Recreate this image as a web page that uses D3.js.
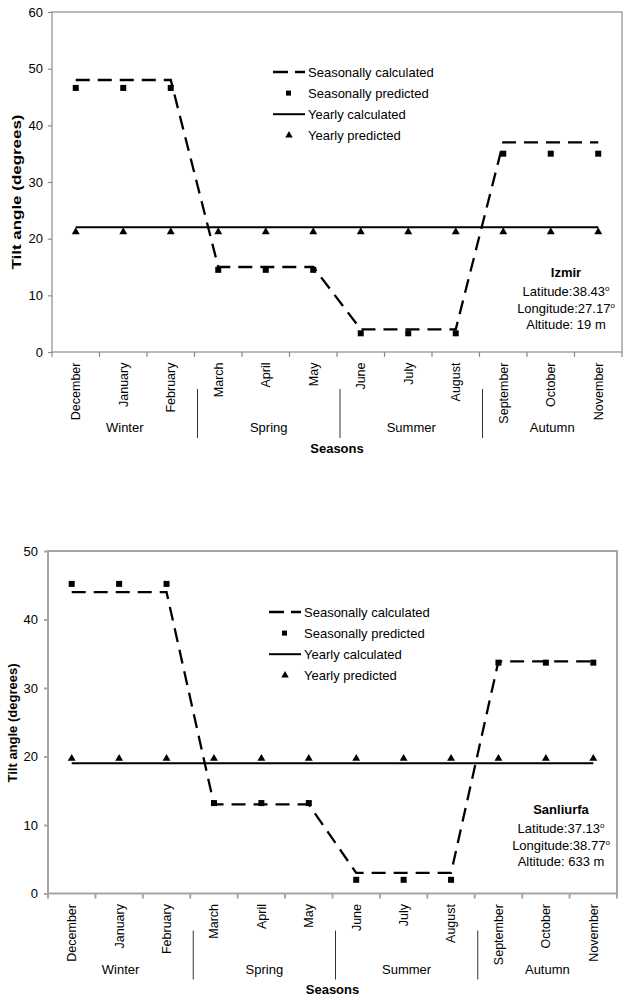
<!DOCTYPE html>
<html>
<head>
<meta charset="utf-8">
<script src="https://cdn.jsdelivr.net/npm/d3@7"></script>
<style>
body{margin:0;background:#fff;}
text{font-family:"Liberation Sans",Arial,sans-serif;fill:#000;}
</style>
</head>
<body>
<div id="chart"></div>
<script>
// categories
var months=["December","January","February","March","April","May","June","July","August","September","October","November"];
var seasons=["Winter","Spring","Summer","Autumn"];
var legendLabels=["Seasonally calculated","Seasonally predicted","Yearly calculated","Yearly predicted"];

// Izmir
var izmirTicks=[0,10,20,30,40,50,60];
var izmirSeasonalCalc=[48,48,48,15,15,15,4,4,4,37,37,37];
var izmirSeasonalPred=[46.6,46.6,46.6,14.5,14.5,14.5,3.3,3.3,3.3,35,35,35];
var izmirYearlyCalc=[22,22,22,22,22,22,22,22,22,22,22,22];
var izmirYearlyPred=[21.2,21.2,21.2,21.2,21.2,21.2,21.2,21.2,21.2,21.2,21.2,21.2];
var izmirInfo=["Izmir","Latitude:38.43","Longitude:27.17","Altitude: 19 m"];

// Sanliurfa
var sanliurfaTicks=[0,10,20,30,40,50];
var sanliurfaSeasonalCalc=[44,44,44,13,13,13,3,3,3,33.9,33.9,33.9];
var sanliurfaSeasonalPred=[45.2,45.2,45.2,13.2,13.2,13.2,2,2,2,33.7,33.7,33.7];
var sanliurfaYearlyCalc=[19,19,19,19,19,19,19,19,19,19,19,19];
var sanliurfaYearlyPred=[19.7,19.7,19.7,19.7,19.7,19.7,19.7,19.7,19.7,19.7,19.7,19.7];
var sanliurfaInfo=["Sanliurfa","Latitude:37.13","Longitude:38.77","Altitude: 633 m"];

var svg=d3.select("#chart").append("svg")
    .attr("width",629)
    .attr("height",1000);

function drawPanel(o){
    var g=svg.append("g");
    var x=d3.scaleBand().domain(months).range([o.left,o.right]);
    var y=d3.scaleLinear().domain([0,o.ticks[o.ticks.length-1]]).range([o.bottom,o.top]);
    var cx=function(i){return x(months[i])+x.bandwidth()/2;};

    // plot frame
    g.append("rect")
        .attr("x",o.left).attr("y",o.top)
        .attr("width",o.right-o.left).attr("height",o.bottom-o.top)
        .attr("fill","none").attr("stroke",o.frameColor).attr("stroke-width",o.frameWidth);

    // y axis
    var ya=g.append("g")
        .attr("transform","translate("+o.left+",0)")
        .call(d3.axisLeft(y).tickValues(o.ticks).tickSize(4).tickPadding(o.tickPad));
    ya.select(".domain").remove();
    ya.selectAll("line").attr("stroke",o.frameColor).attr("stroke-width",o.frameWidth);
    ya.selectAll("text").style("font-size","13px").style("font-family","Liberation Sans, Arial, sans-serif");

    // x axis: month labels at band centres
    var xa=g.append("g")
        .attr("transform","translate(0,"+o.bottom+")")
        .call(d3.axisBottom(x).tickSize(0).tickPadding(0));
    xa.select(".domain").remove();
    xa.selectAll("text")
        .attr("transform","rotate(-90)")
        .attr("x",-10.5).attr("y",0).attr("dy","0.35em")
        .attr("text-anchor","end")
        .style("font-size","12.5px").style("font-family","Liberation Sans, Arial, sans-serif");

    // tick marks at category boundaries
    var edges=months.map(function(m){return x(m);}).concat([x(months[11])+x.step()]);
    g.selectAll(".xtick").data(edges).enter().append("line")
        .attr("x1",function(d){return d;}).attr("x2",function(d){return d;})
        .attr("y1",o.bottom).attr("y2",o.bottom+5)
        .attr("stroke",o.frameColor).attr("stroke-width",o.frameWidth);

    // season separators and labels
    var seps=[3,6,9].map(function(i){return x(months[i])+3;});
    g.selectAll(".sep").data(seps).enter().append("line")
        .attr("x1",function(d){return d;}).attr("x2",function(d){return d;})
        .attr("y1",o.bottom+37).attr("y2",o.bottom+86)
        .attr("stroke","#333").attr("stroke-width",1);
    var groupEdges=[o.left].concat(seps).concat([o.right]);
    g.selectAll(".season").data(seasons).enter().append("text")
        .attr("x",function(d,i){return (groupEdges[i]+groupEdges[i+1])/2;})
        .attr("y",o.bottom+80)
        .attr("text-anchor","middle")
        .style("font-size","13px")
        .text(function(d){return d;});
    g.append("text")
        .attr("x",(o.left+o.right)/2).attr("y",o.bottom+100.5)
        .attr("text-anchor","middle")
        .style("font-size","13px").style("font-weight","bold")
        .text("Seasons");

    // y title
    var yt=g.append("text")
        .attr("transform","translate("+o.titleX+","+o.titleY+") rotate(-90)")
        .attr("text-anchor","middle").attr("dy","0.35em")
        .style("font-size","13px").style("font-weight","bold")
        .text("Tilt angle (degrees)");
    if(o.titleLen) yt.attr("textLength",o.titleLen).attr("lengthAdjust","spacingAndGlyphs");

    var line=d3.line().x(function(d,i){return cx(i);}).y(function(d){return y(d);});

    // yearly calculated
    g.append("path").datum(o.yearlyCalc).attr("d",line)
        .attr("fill","none").attr("stroke","#000").attr("stroke-width",2);
    // seasonally calculated
    g.append("path").datum(o.seasonalCalc).attr("d",line)
        .attr("fill","none").attr("stroke","#000").attr("stroke-width",2.3)
        .attr("stroke-dasharray","14,8");

    // seasonally predicted
    g.selectAll(".sq").data(o.seasonalPred).enter().append("rect")
        .attr("x",function(d,i){return cx(i)-3;})
        .attr("y",function(d){return y(d)-3;})
        .attr("width",6).attr("height",6).attr("fill","#000");
    // yearly predicted
    var tri=d3.symbol().type(d3.symbolTriangle).size(27);
    g.selectAll(".tri").data(o.yearlyPred).enter().append("path")
        .attr("d",tri)
        .attr("transform",function(d,i){return "translate("+cx(i)+","+y(d)+")";})
        .attr("fill","#000");

    // legend
    var lg=g.append("g").attr("transform","translate("+o.legendX+","+o.legendY+")");
    legendLabels.forEach(function(lab,i){
        var ry=i*21.1;
        if(i===0) lg.append("line").attr("x1",0).attr("x2",32).attr("y1",ry).attr("y2",ry)
            .attr("stroke","#000").attr("stroke-width",2.3).attr("stroke-dasharray","15,7");
        if(i===1) lg.append("rect").attr("x",13).attr("y",ry-2.5).attr("width",5).attr("height",5).attr("fill","#000");
        if(i===2) lg.append("line").attr("x1",0).attr("x2",32).attr("y1",ry).attr("y2",ry)
            .attr("stroke","#000").attr("stroke-width",2);
        if(i===3) lg.append("path").attr("d",d3.symbol().type(d3.symbolTriangle).size(24)).attr("transform","translate(16,"+ry+")").attr("fill","#000");
        lg.append("text").attr("x",35).attr("y",ry).attr("dy","0.35em")
            .style("font-size","13px").text(lab);
    });

    // site info
    var info=g.append("g");
    var offs=[0,19,36,52];
    o.info.forEach(function(t,i){
        var tx=info.append("text").attr("x",o.infoX).attr("y",o.infoY+offs[i])
            .attr("text-anchor","middle").style("font-size","13px");
        if(i===0){tx.style("font-weight","bold").text(t);}
        else if(i<3){
            tx.append("tspan").text(t);
            tx.append("tspan").attr("dy",-5).style("font-size","8px").text("o");
        } else tx.text(t);
    });
}

drawPanel({
    left:52,right:622,top:12,bottom:352,
    ticks:izmirTicks,tickPad:5,
    frameColor:"#8c8c8c",frameWidth:1.2,
    seasonalCalc:izmirSeasonalCalc,seasonalPred:izmirSeasonalPred,
    yearlyCalc:izmirYearlyCalc,yearlyPred:izmirYearlyPred,
    titleX:16,titleY:192,titleLen:155,
    legendX:273,legendY:72,
    info:izmirInfo,infoX:566,infoY:277
});

drawPanel({
    left:48,right:617,top:551,bottom:893.5,
    ticks:sanliurfaTicks,tickPad:6,
    frameColor:"#a6a6a6",frameWidth:2,
    seasonalCalc:sanliurfaSeasonalCalc,seasonalPred:sanliurfaSeasonalPred,
    yearlyCalc:sanliurfaYearlyCalc,yearlyPred:sanliurfaYearlyPred,
    titleX:12,titleY:723,titleLen:null,
    legendX:269,legendY:612,
    info:sanliurfaInfo,infoX:561,infoY:814
});
</script>
</body>
</html>
